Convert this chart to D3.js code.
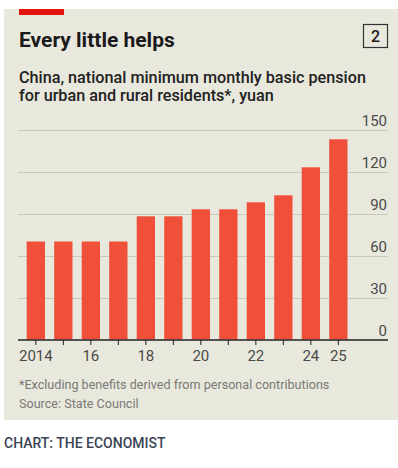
<!DOCTYPE html>
<html lang="en">
<head>
  <meta charset="UTF-8">
  <title>Every little helps</title>
  <script src="https://d3js.org/d3.v7.min.js"></script>
  <style>
    body { margin: 0; background: #fff; }
    svg { display: block; font-family: Roboto, "Noto Sans", sans-serif; }
    .bar { fill: #f0503a; }
    .grid line { stroke: #c9c8bd; stroke-width: 1; }
    .tick-label { font-size: 15px; fill: #4a4a4a; }
  </style>
</head>
<body>
  <svg width="398" height="468"></svg>

  <script>
    // data
    const years = [2014, 2015, 2016, 2017, 2018, 2019, 2020, 2021, 2022, 2023, 2024, 2025];
    const pension = [70, 70, 70, 70, 88, 88, 93, 93, 98, 103, 123, 143];
    const yTicks = [0, 30, 60, 90, 120, 150];
    const xLabels = { 2014: "2014", 2016: "16", 2018: "18", 2020: "20", 2022: "22", 2024: "24", 2025: "25" };

    const data = years.map((y, i) => ({ year: y, value: pension[i] }));

    const svg = d3.select("svg");

    // panel background
    svg.append("rect")
      .attr("x", 4).attr("y", 9)
      .attr("width", 394).attr("height", 411)
      .attr("fill", "#e9e8dd");

    // red tag at top
    svg.append("rect")
      .attr("x", 19).attr("y", 9)
      .attr("width", 45).attr("height", 6)
      .attr("fill", "#e3120b");

    svg.append("text")
      .attr("x", 19).attr("y", 47)
      .attr("font-size", 21).attr("font-weight", 700)
      .attr("fill", "#1a1a1a")
      .text("Every little helps");

    // chart number box
    svg.append("rect")
      .attr("x", 363.5).attr("y", 24.5)
      .attr("width", 24).attr("height", 23)
      .attr("fill", "none").attr("stroke", "#333").attr("stroke-width", 1.2);
    svg.append("text")
      .attr("x", 375.5).attr("y", 42)
      .attr("text-anchor", "middle")
      .attr("font-size", 16).attr("font-weight", 500)
      .attr("fill", "#1a1a1a")
      .text("2");

    const sub = svg.append("text")
      .attr("font-size", 16.2).attr("font-weight", 500)
      .attr("fill", "#222");
    sub.append("tspan").attr("x", 19).attr("y", 82.5)
      .text("China, national minimum monthly basic pension");
    sub.append("tspan").attr("x", 19).attr("y", 100.5)
      .text("for urban and rural residents*, yuan");

    // scales
    const x = d3.scaleBand()
      .domain(years)
      .range([26.7, 347.5])
      .paddingInner(0.335)
      .paddingOuter(0);

    const y = d3.scaleLinear()
      .domain([0, 150])
      .range([339.5, 129.5]);

    const gridLeft = 18, gridRight = 388;

    // gridlines + y labels
    const grid = svg.append("g").attr("class", "grid");
    grid.selectAll("line")
      .data(yTicks.filter(d => d > 0))
      .join("line")
        .attr("x1", gridLeft).attr("x2", gridRight)
        .attr("y1", d => Math.round(y(d)) + 0.5)
        .attr("y2", d => Math.round(y(d)) + 0.5);

    svg.append("g").selectAll("text")
      .data(yTicks)
      .join("text")
        .attr("class", "tick-label")
        .attr("x", gridRight - 1)
        .attr("y", d => y(d) - 4)
        .attr("text-anchor", "end")
        .text(d => d);

    // bars
    svg.selectAll(".bar")
      .data(data)
      .join("rect")
        .attr("class", "bar")
        .attr("x", d => x(d.year))
        .attr("y", d => y(d.value))
        .attr("width", x.bandwidth())
        .attr("height", d => y(0) - y(d.value));

    // x axis
    const xAxis = d3.axisBottom(x)
      .tickSize(5)
      .tickFormat(d => xLabels[d] || "");
    const gx = svg.append("g")
      .attr("transform", `translate(0, ${Math.round(y(0))})`)
      .call(xAxis);
    gx.select(".domain").remove();
    gx.append("line")
      .attr("x1", gridLeft).attr("x2", gridRight)
      .attr("y1", 0).attr("y2", 0)
      .attr("stroke", "#222").attr("stroke-width", 1.3);
    gx.selectAll(".tick line").attr("stroke", "#222");
    gx.selectAll(".tick text")
      .attr("class", "tick-label")
      .attr("y", 10)
      .attr("dy", "0.71em")
      .style("font-family", "Roboto, sans-serif");

    // footnotes
    const foot = svg.append("text")
      .attr("font-size", 12.6).attr("fill", "#7a7a76");
    foot.append("tspan").attr("x", 19).attr("y", 389)
      .text("*Excluding benefits derived from personal contributions");
    foot.append("tspan").attr("x", 19).attr("y", 407.5)
      .text("Source: State Council");

    svg.append("text")
      .attr("x", 4).attr("y", 447.5)
      .attr("font-size", 14).attr("font-weight", 500)
      .attr("fill", "#3b4455")
      .text("CHART: THE ECONOMIST");
  </script>
</body>
</html>
